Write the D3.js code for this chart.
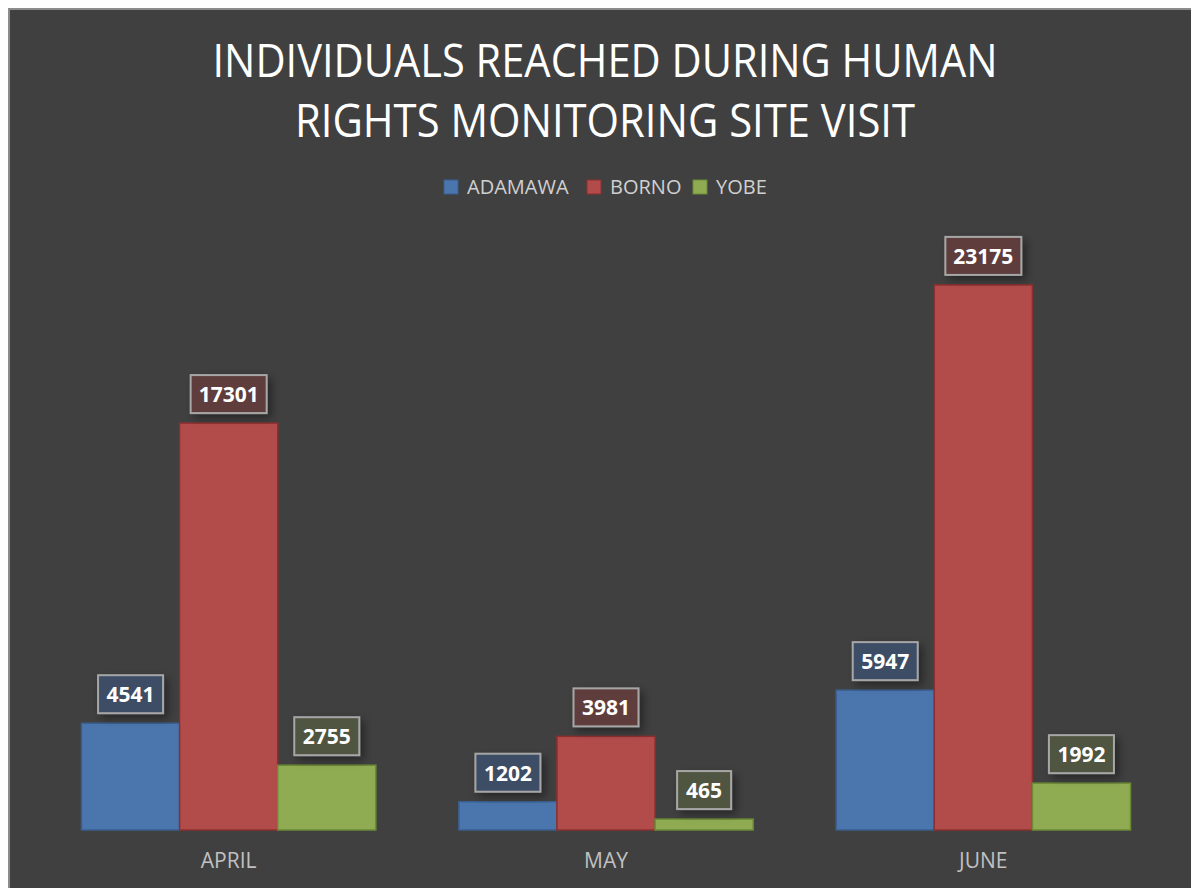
<!DOCTYPE html>
<html>
<head>
<meta charset="utf-8">
<script src="https://cdn.jsdelivr.net/npm/d3@7"></script>
<style>
  body { margin: 0; background: #ffffff; }
  #graph { width: 1191px; height: 888px; overflow: hidden; }
</style>
</head>
<body>
<div id="graph"></div>
<script>
var mois = ["APRIL", "MAY", "JUNE"],
    series = ["ADAMAWA", "BORNO", "YOBE"],
    adamawa = [4541, 1202, 5947],
    borno = [17301, 3981, 23175],
    yobe = [2755, 465, 1992],
    titre = ["INDIVIDUALS REACHED DURING HUMAN", "RIGHTS MONITORING SITE VISIT"];

function dessinBarres() {
    var width = 1191, height = 888,
        couleurs = ["#4a76ad", "#b24c4b", "#8fac53"],
        bordures = ["#3a5f8f", "#8c2f2e", "#6b8a35"],
        fonds_etiquette = ["#3e4d65", "#5f3e3e", "#4f5540"],
        valeurs = [adamawa, borno, yobe],

        svg = d3.select("#graph")
            .append("svg")
                .attr("width", width)
                .attr("height", height),

        x0 = d3.scaleBand()
            .domain(mois)
            .range([40, 1172])
            .paddingInner(0.22)
            .paddingOuter(0.11),

        x1 = d3.scaleBand()
            .domain(series)
            .range([0, x0.bandwidth()]),

        y = d3.scaleLinear()
            .domain([0, 25000])
            .range([830, 242]);

    var defs = svg.append("defs");
    defs.append("filter")
        .attr("id", "ombre")
        .attr("x", "-30%").attr("y", "-30%")
        .attr("width", "170%").attr("height", "170%")
        .append("feDropShadow")
            .attr("dx", 4).attr("dy", 4)
            .attr("stdDeviation", 4)
            .attr("flood-color", "#000")
            .attr("flood-opacity", 0.4);

    // fond du graphique
    svg.append("rect")
        .attr("x", 9).attr("y", 9)
        .attr("width", width).attr("height", height)
        .style("fill", "#404040")
        .style("stroke", "#8c8c8c")
        .style("stroke-width", 2);

    var largeurs_titre = [785, 620];
    svg.selectAll(".titre")
        .data(titre)
        .enter()
        .append("text")
        .attr("x", 605)
        .attr("y", function (d, i) { return 77 + i * 60; })
        .attr("textLength", function (d, i) { return largeurs_titre[i]; })
        .attr("lengthAdjust", "spacingAndGlyphs")
        .style("text-anchor", "middle")
        .style("font-family", "'Open Sans', sans-serif")
        .style("font-size", "46px")
        .style("fill", "#ffffff")
        .text(function (d) { return d; });

    // légende
    var legende_x = [444, 587, 693];
    var leg = svg.selectAll(".legende")
        .data(series)
        .enter()
        .append("g")
        .attr("transform", function (d, i) { return "translate(" + legende_x[i] + ",180)"; });
    leg.append("rect")
        .attr("width", 14).attr("height", 14)
        .style("fill", function (d, i) { return couleurs[i]; })
        .style("stroke", function (d, i) { return bordures[i]; })
        .style("stroke-width", 1);
    leg.append("text")
        .attr("x", 23).attr("y", 14)
        .style("font-family", "'Open Sans', sans-serif")
        .style("font-size", "20px")
        .style("fill", "#d0d0d0")
        .text(function (d) { return d; });

    // axe des catégories
    var axe = svg.append("g")
        .attr("transform", "translate(0,830)")
        .call(d3.axisBottom(x0).tickSize(0).tickPadding(23));
    axe.select(".domain").remove();
    axe.selectAll("text")
        .style("font-family", "'Open Sans', sans-serif")
        .style("font-size", "21px")
        .style("fill", "#c0c0c0");

    var groupes = svg.selectAll(".groupe")
        .data(mois)
        .enter()
        .append("g")
        .attr("transform", function (d) { return "translate(" + x0(d) + ",0)"; });

    series.forEach(function (s, j) {
        groupes.append("rect")
            .attr("x", x1(s))
            .attr("y", function (d, i) { return y(valeurs[j][i]); })
            .attr("width", x1.bandwidth())
            .attr("height", function (d, i) { return y(0) - y(valeurs[j][i]); })
            .style("fill", couleurs[j])
            .style("stroke", bordures[j])
            .style("stroke-width", 1.5);
    });

    series.forEach(function (s, j) {
        var etiq = groupes.append("g")
            .attr("transform", function (d, i) {
                return "translate(" + (x1(s) + x1.bandwidth() / 2) + "," + (y(valeurs[j][i]) - 29) + ")";
            });
        etiq.append("rect")
            .attr("x", function (d, i) { return -(String(valeurs[j][i]).length * 11 + 21) / 2; })
            .attr("y", -19)
            .attr("width", function (d, i) { return String(valeurs[j][i]).length * 11 + 21; })
            .attr("height", 38)
            .attr("filter", "url(#ombre)")
            .style("fill", fonds_etiquette[j])
            .style("stroke", "#a6a6a6")
            .style("stroke-width", 2);
        etiq.append("text")
            .attr("y", 8)
            .style("text-anchor", "middle")
            .style("font-family", "'Open Sans', sans-serif")
            .style("font-weight", "bold")
            .style("font-size", "21px")
            .style("fill", "#ffffff")
            .text(function (d, i) { return valeurs[j][i]; });
    });
}

dessinBarres();
</script>
</body>
</html>
